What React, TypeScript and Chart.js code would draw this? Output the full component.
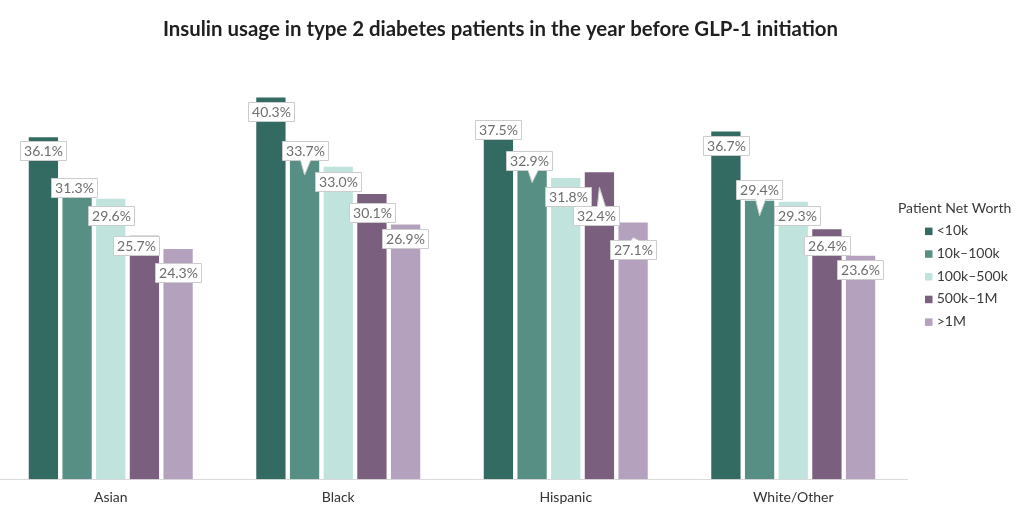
import React, { useEffect, useRef } from 'react';
import { Chart, registerables } from 'chart.js';

Chart.register(...registerables);

const TITLE = 'Insulin usage in type 2 diabetes patients in the year before GLP-1 initiation';
const LEGEND_TITLE = 'Patient Net Worth';

const categories = ['Asian', 'Black', 'Hispanic', 'White/Other'];
const seriesNames = ['<10k', '10k–100k', '100k–500k', '500k–1M', '>1M'];

const under10k = [36.1, 40.3, 37.5, 36.7];
const from10kTo100k = [31.3, 33.7, 32.9, 29.4];
const from100kTo500k = [29.6, 33.0, 31.8, 29.3];
const from500kTo1M = [25.7, 30.1, 32.4, 26.4];
const over1M = [24.3, 26.9, 27.1, 23.6];

const seriesValues = [under10k, from10kTo100k, from100kTo500k, from500kTo1M, over1M];
const seriesColors = ['#336b63', '#578f85', '#c1e3dd', '#7a5f7e', '#b4a1bd'];

// label nudges (px) relative to the label anchor, per series then category
const labelNudge = [
  [[0, -2], [0, -1], [0, -10], [0, -1]],
  [[-3, -10], [0, -25], [-3, -22], [-1, -26]],
  [[0, 2], [0, 0], [2, 3], [4, -1]],
  [[-8, -5], [0, 3], [-3, 28], [0, 1]],
  [[0, 8], [-1, -1], [0, 12], [-1, -1]],
];

const FONT = 'Lato';
const SHIFT = 3; // canvas is shifted left by this many px so the plot starts just off-page

const overlayPlugin = {
  id: 'overlay',
  afterDatasetsDraw(chart: any) {
    const ctx = chart.ctx as CanvasRenderingContext2D;
    ctx.save();
    ctx.font = `14px ${FONT}`;
    ctx.textAlign = 'center';
    ctx.textBaseline = 'middle';
    chart.data.datasets.forEach((ds: any, si: number) => {
      const meta = chart.getDatasetMeta(si);
      meta.data.forEach((bar: any, ci: number) => {
        const v = ds.data[ci];
        const text = v.toFixed(1) + '%';
        const ax = bar.x;
        const ay = bar.y + 15;
        const [dx, dy] = labelNudge[si][ci];
        const cx = ax + dx;
        const cy = ay + dy;
        const tw = ctx.measureText(text).width;
        const w = Math.round(tw + 7);
        const h = 19;
        const l = Math.round(cx - w / 2) + 0.5;
        const t = Math.round(cy - h / 2) + 0.5;
        const r = l + w;
        const b = t + h;
        ctx.beginPath();
        if (ay > b + 2) {
          const bl = Math.max(l + 2, Math.min(ax - 4, r - 12));
          const br = bl + 10;
          ctx.moveTo(l, t);
          ctx.lineTo(r, t);
          ctx.lineTo(r, b);
          ctx.lineTo(br, b);
          ctx.lineTo(ax, ay);
          ctx.lineTo(bl, b);
          ctx.lineTo(l, b);
          ctx.closePath();
        } else if (ay < t - 2) {
          const bl = Math.max(l + 2, Math.min(ax - 2, r - 12));
          const br = bl + 8;
          ctx.moveTo(l, t);
          ctx.lineTo(bl, t);
          ctx.lineTo(ax, ay);
          ctx.lineTo(br, t);
          ctx.lineTo(r, t);
          ctx.lineTo(r, b);
          ctx.lineTo(l, b);
          ctx.closePath();
        } else {
          ctx.rect(l, t, w, h);
        }
        ctx.fillStyle = '#ffffff';
        ctx.fill();
        ctx.strokeStyle = '#cccccc';
        ctx.lineWidth = 1;
        ctx.stroke();
        ctx.fillStyle = '#6e6e6e';
        ctx.fillText(text, l + w / 2, t + h / 2 + 0.5);
      });
    });
    ctx.restore();
  },
  afterDraw(chart: any) {
    const ctx = chart.ctx as CanvasRenderingContext2D;
    const area = chart.chartArea;
    ctx.save();
    // title
    ctx.font = `bold 20.4px ${FONT}`;
    ctx.fillStyle = '#1f1f1f';
    ctx.textAlign = 'center';
    ctx.textBaseline = 'alphabetic';
    ctx.fillText(TITLE, 500.5 + SHIFT, 36);
    // legend
    const mid = (area.top + area.bottom) / 2;
    ctx.font = `14px ${FONT}`;
    ctx.fillStyle = '#3a3a3a';
    ctx.textAlign = 'center';
    ctx.fillText(LEGEND_TITLE, area.right + 47.6, mid - 53);
    ctx.textAlign = 'left';
    seriesNames.forEach((name, i) => {
      const base = mid - 31 + 22.7 * i;
      ctx.fillStyle = seriesColors[i];
      ctx.fillRect(area.right + 18, base - 7.5, 7.5, 7.5);
      ctx.fillStyle = '#3a3a3a';
      ctx.fillText(name, area.right + 29.7, base);
    });
    ctx.restore();
  },
};

export default function App() {
  const canvasRef = useRef<HTMLCanvasElement | null>(null);

  useEffect(() => {
    document.body.style.margin = '0';
    Chart.defaults.font.family = FONT;
    const canvas = canvasRef.current!;
    const chart = new Chart(canvas, {
      type: 'bar',
      data: {
        labels: categories,
        datasets: seriesNames.map((name, i) => ({
          label: name,
          data: seriesValues[i],
          backgroundColor: seriesColors[i],
          borderWidth: 0,
          barPercentage: 0.87,
          categoryPercentage: 0.74,
        })),
      },
      options: {
        responsive: false,
        animation: false,
        devicePixelRatio: 1,
        layout: { padding: { left: 0, right: 117, top: 53, bottom: 3 } },
        plugins: {
          legend: { display: false },
          title: { display: false },
          tooltip: { enabled: false },
        },
        scales: {
          x: {
            grid: { display: false, drawTicks: false },
            border: { display: true, color: '#d9d9d9', width: 1 },
            ticks: { color: '#333333', font: { size: 14, family: FONT }, padding: 10 },
          },
          y: { display: false, min: 0, max: 45 },
        },
      },
      plugins: [overlayPlugin],
    });
    return () => chart.destroy();
  }, []);

  return (
    <div style={{ width: 1024, height: 519, overflow: 'hidden', background: '#ffffff' }}>
      <canvas
        ref={canvasRef}
        width={1024 + SHIFT}
        height={519}
        style={{ display: 'block', marginLeft: -SHIFT }}
      />
    </div>
  );
}
